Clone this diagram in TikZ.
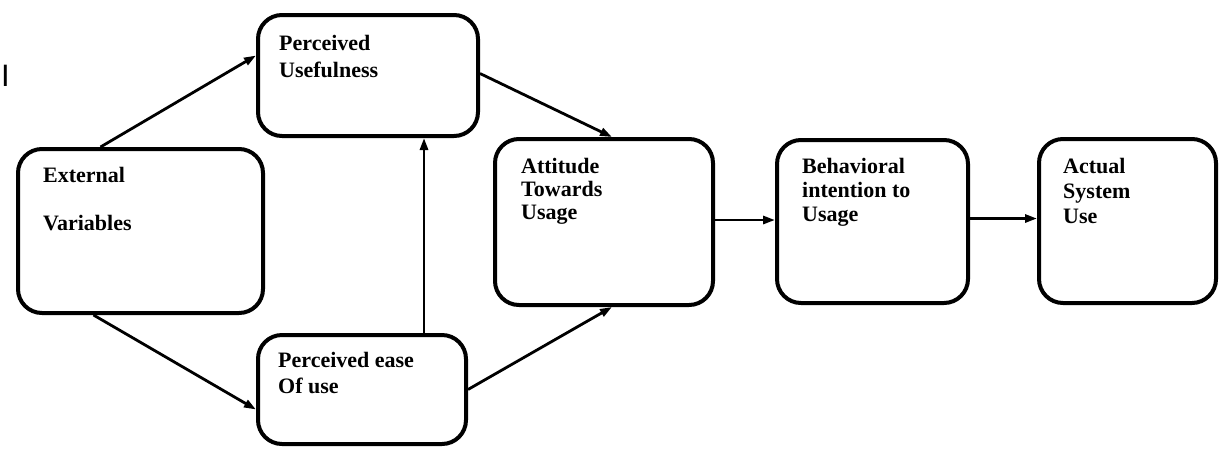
\documentclass[tikz,border=0pt]{standalone}
\usepackage{fontspec}
\setmainfont{Liberation Serif}
\setsansfont{Liberation Sans}
\usetikzlibrary{arrows.meta}
\begin{document}
\begin{tikzpicture}[x=1pt,y=-1pt,
  box/.style={draw=black,line width=4pt,rounded corners=24pt,inner sep=0pt,fill=none},
  lbl/.style={anchor=base west,inner sep=0pt,font=\fontsize{22}{23}\selectfont\bfseries},
  conn/.style={line width=2.8pt,-{Triangle[length=12pt,width=8pt]}}
]
\useasboundingbox (0,0) rectangle (1222,448);
\node[box,minimum width=220pt,minimum height=121pt] (pu) at (368,75.5) {};
\node[box,minimum width=245pt,minimum height=164pt] (ev) at (140.5,231) {};
\node[box,minimum width=208pt,minimum height=109pt] (peou) at (362,389.5) {};
\node[box,minimum width=218pt,minimum height=166pt] (atu) at (604,222) {};
\node[box,minimum width=191pt,minimum height=163pt] (bi) at (872.5,221.5) {};
\node[box,minimum width=177pt,minimum height=164pt] (asu) at (1127.5,221) {};

\node[lbl] (tpu) at (279,50) {\begin{tabular}[t]{@{}l@{}}Perceived\\[4pt]Usefulness\end{tabular}};
\node[lbl] (tev) at (43,182) {\begin{tabular}[t]{@{}l@{}}External\\[25pt]Variables\end{tabular}};
\node[lbl] (tpeou) at (278,367) {\begin{tabular}[t]{@{}l@{}}Perceived ease\\[3pt]Of use\end{tabular}};
\node[lbl] (tatu) at (521,173) {\begin{tabular}[t]{@{}l@{}}Attitude\\Towards\\Usage\end{tabular}};
\node[lbl] (tbi) at (802,173) {\begin{tabular}[t]{@{}l@{}}Behavioral\\[1pt]intention to\\[1pt]Usage\end{tabular}};
\node[lbl] (tasu) at (1063,173) {\begin{tabular}[t]{@{}l@{}}Actual\\[2pt]System\\[2pt]Use\end{tabular}};

\node[anchor=base,inner sep=0pt,font=\fontsize{31}{31}\selectfont\sffamily] (stray) at (5.5,86) {I};

\draw[conn] ([xshift=-40pt]ev.north) -- ([yshift=20pt]pu.west);
\draw[conn] ([xshift=-47pt]ev.south) -- ([yshift=-20pt]peou.west);
\draw[conn] ([xshift=62pt]peou.north) -- ([xshift=56pt]pu.south);
\draw[conn] ([yshift=2pt]pu.east) -- ([xshift=8pt]atu.north);
\draw[conn] (peou.east) -- ([xshift=8pt]atu.south);
\draw[conn] ([yshift=2pt]atu.east) -- ([yshift=2pt]atu.east -| bi.west);
\draw[conn] ([yshift=3pt]bi.east) -- ([yshift=3pt]bi.east -| asu.west);
\end{tikzpicture}
\end{document}
